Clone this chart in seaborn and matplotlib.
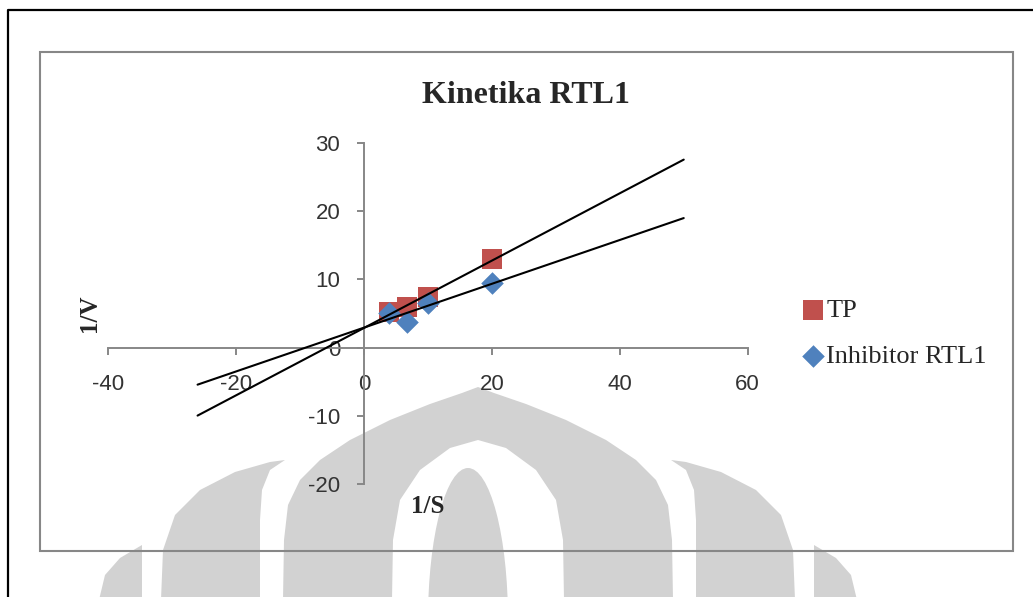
import numpy as np
import matplotlib
matplotlib.use("Agg")
import matplotlib.pyplot as plt
from matplotlib.patches import Polygon, Rectangle, Ellipse
from matplotlib.lines import Line2D
import seaborn as sns

# Lineweaver-Burk data: 1/S against 1/V
inv_s = [4.0, 6.67, 10.0, 20.0]
inv_v_tp = [5.2, 6.0, 7.4, 12.9]
inv_v_inhibitor = [5.0, 3.8, 6.5, 9.4]
series_names = ["TP", "Inhibitor RTL1"]
x_ticks = [-40, -20, 0, 20, 40, 60]
y_ticks = [-20, -10, 0, 10, 20, 30]

# trendline forecast (backward / forward) in x units
FORECAST = 30

W, H = 1033, 597
RED = "#C0504D"
BLUE = "#4F81BD"
WM = "#d2d2d2"

sns.set_style("white")
plt.rcParams["font.family"] = ["Liberation Sans", "DejaVu Sans"]
plt.rcParams["axes.unicode_minus"] = False

fig = plt.figure(figsize=(W / 100, H / 100), dpi=100)
fig.patch.set_facecolor("white")


def fp(pts):
    """pixel coordinates (origin top-left) -> figure fraction"""
    return [(x / W, 1 - y / H) for x, y in pts]


def mirror(pts, cx=478):
    return [(2 * cx - x, y) for x, y in pts]


# ---- watermark emblem in the background ----
dome_left = [(283, 600), (284, 540), (288, 505), (300, 480), (320, 460),
             (350, 440), (390, 420), (430, 404), (462, 393), (478, 387)]
dome = dome_left + mirror(dome_left[::-1])
fig.add_artist(Polygon(fp(dome), closed=True, transform=fig.transFigure,
                       fc=WM, ec="none", zorder=0))
lens_left = [(392, 600), (393, 540), (400, 500), (420, 470), (450, 448), (478, 440)]
lens = lens_left + mirror(lens_left[::-1])
fig.add_artist(Polygon(fp(lens), closed=True, transform=fig.transFigure,
                       fc="white", ec="none", zorder=0))
cx, cy = fp([(468, 620)])[0]
fig.add_artist(Ellipse((cx, cy), 80 / W, 2 * 152 / H, transform=fig.transFigure,
                       fc=WM, ec="none", zorder=0))
side_left = [(161, 600), (163, 550), (175, 515), (200, 490), (235, 472),
             (270, 462), (285, 460), (270, 470), (262, 490), (260, 520), (260, 600)]
outer_left = [(99, 600), (105, 575), (120, 558), (142, 545), (142, 600)]
for shape in (side_left, outer_left):
    for pts in (shape, mirror(shape)):
        fig.add_artist(Polygon(fp(pts), closed=True, transform=fig.transFigure,
                               fc=WM, ec="none", zorder=0))

# ---- page frame and chart frame ----
fig.add_artist(Line2D([8 / W, 8 / W, 1.0], [0.0, 1 - 9.5 / H, 1 - 9.5 / H],
                      transform=fig.transFigure, color="black", lw=1.6, zorder=1))
fig.add_artist(Rectangle((40 / W, 1 - 551 / H), (1013 - 40) / W, (551 - 52) / H,
                         transform=fig.transFigure, fill=False, ec="#878787",
                         lw=1.5, zorder=1))

# ---- plot area ----
ax = fig.add_axes([108 / W, 1 - 484 / H, (747.7 - 108) / W, (484 - 142.8) / H])
ax.set_facecolor("none")
ax.set_zorder(2)

sns.scatterplot(x=inv_s, y=inv_v_tp, marker="s", s=14.5 ** 2, color=RED,
                linewidth=0, label=series_names[0], ax=ax, zorder=2)
sns.scatterplot(x=inv_s, y=inv_v_inhibitor, marker="D", s=11.5 ** 2, color=BLUE,
                linewidth=0, label=series_names[1], ax=ax, zorder=2)

# linear trendlines with forecast
for yvals in (inv_v_tp, inv_v_inhibitor):
    slope, icpt = np.polyfit(inv_s, yvals, 1)
    xx = np.array([min(inv_s) - FORECAST, max(inv_s) + FORECAST])
    ax.plot(xx, slope * xx + icpt, color="black", lw=1.5, zorder=3)

ax.set_xlim(-40, 60)
ax.set_ylim(-20, 30)
ax.set_xticks(x_ticks)
ax.set_yticks(y_ticks)
ax.set_xlabel("")
ax.set_ylabel("")

for side in ("top", "right"):
    ax.spines[side].set_visible(False)
ax.spines["left"].set_position(("data", 0))
ax.spines["bottom"].set_position(("data", 0))
for side in ("left", "bottom"):
    ax.spines[side].set_color("#878787")
    ax.spines[side].set_linewidth(1.4)
ax.tick_params(axis="both", direction="out", length=5, width=1.4,
               color="#878787", labelsize=16, labelcolor="#333333", pad=12)
ax.tick_params(axis="x", bottom=True, pad=14)
ax.tick_params(axis="y", left=True)

leg = ax.legend(loc="center left", bbox_to_anchor=(776 / W, 1 - 333 / H),
                bbox_transform=fig.transFigure, frameon=False,
                prop={"family": "Liberation Serif", "size": 19},
                handlelength=1.0, handletextpad=0.0, labelspacing=0.85,
                borderpad=0.4)

# ---- titles ----
serif = ["Liberation Serif", "DejaVu Serif"]
fig.text(526 / W, 1 - 103 / H, "Kinetika RTL1", ha="center", va="baseline",
         fontsize=23, fontweight="bold", family=serif)
fig.text(428 / W, 1 - 513 / H, "1/S", ha="center", va="baseline",
         fontsize=18, fontweight="bold", family=serif)
fig.text(90 / W, 1 - 313 / H, "1/V", ha="center", va="center", rotation=90,
         fontsize=18, fontweight="bold", family=serif)

fig.savefig("out.png", dpi=100, facecolor="white")
